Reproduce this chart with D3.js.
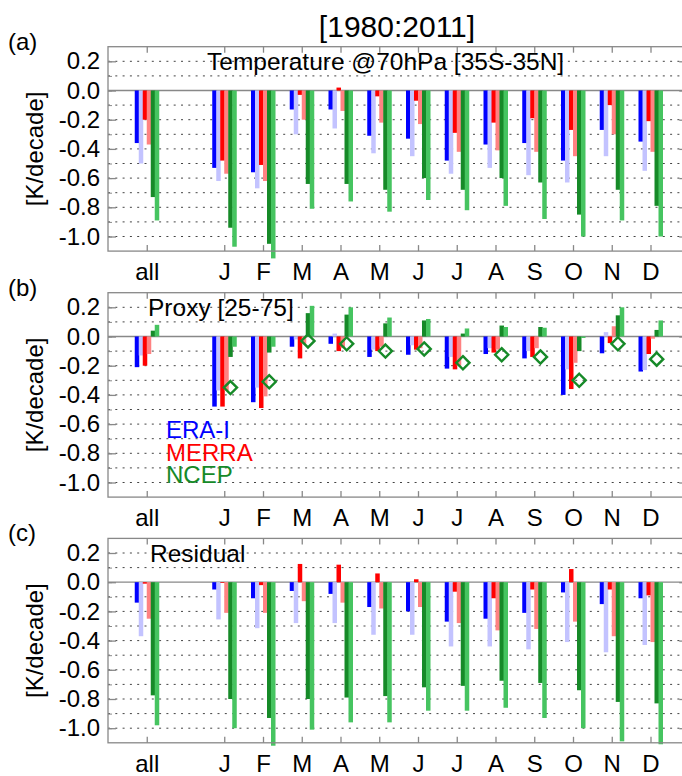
<!DOCTYPE html>
<html>
<head>
<meta charset="utf-8">
<script src="https://cdn.jsdelivr.net/npm/d3@7"></script>
<style>
body { margin: 0; background: #fff; }
text { font-family: "Liberation Sans", Arial, Helvetica, sans-serif; fill: #000; }
</style>
</head>
<body>
<div id="chart"></div>
<script>
var w = 682;
var h = 776;

// categories: "all" then the months (a blank slot sits between them)
var categories = ["all", "J", "F", "M", "A", "M", "J", "J", "A", "S", "O", "N", "D"];
var yTicks = [0.2, 0.0, -0.2, -0.4, -0.6, -0.8, -1.0];

// (a) Temperature @70hPa
var eraA     = [-0.36, -0.53, -0.56, -0.13, -0.13, -0.31, -0.33, -0.48, -0.37, -0.36, -0.48, -0.27, -0.35];
var eraA2    = [-0.50, -0.62, -0.67, -0.30, -0.26, -0.43, -0.45, -0.57, -0.53, -0.58, -0.63, -0.45, -0.55];
var merraA   = [-0.20, -0.48, -0.51, -0.03, 0.02, -0.04, -0.07, -0.29, -0.22, -0.19, -0.27, -0.10, -0.21];
var merraA2  = [-0.37, -0.57, -0.62, -0.20, -0.14, -0.22, -0.23, -0.42, -0.41, -0.42, -0.45, -0.30, -0.42];
var ncepA    = [-0.73, -0.94, -1.05, -0.64, -0.64, -0.68, -0.60, -0.68, -0.60, -0.63, -0.85, -0.68, -0.79];
var ncepA2   = [-0.89, -1.07, -1.15, -0.81, -0.76, -0.83, -0.75, -0.82, -0.79, -0.88, -1.00, -0.89, -1.00];

// (b) Proxy [25-75]
var eraB     = [-0.21, -0.48, -0.45, -0.07, -0.05, -0.14, -0.125, -0.22, -0.12, -0.15, -0.40, -0.115, -0.24];
var eraB2    = [-0.13, -0.37, -0.35, -0.02, 0.02, -0.09, -0.06, -0.14, -0.08, -0.10, -0.225, 0.03, -0.23];
var merraB   = [-0.20, -0.48, -0.49, -0.15, -0.10, -0.10, -0.09, -0.225, -0.11, -0.14, -0.36, -0.045, -0.12];
var merraB2  = [-0.12, -0.37, -0.41, -0.05, -0.08, -0.07, -0.08, -0.20, -0.09, -0.08, -0.18, 0.07, -0.015];
var ncepB    = [0.04, -0.14, -0.11, 0.16, 0.15, 0.09, 0.11, 0.02, 0.075, 0.065, -0.10, 0.145, 0.045];
var ncepB2   = [0.08, -0.07, -0.07, 0.21, 0.20, 0.13, 0.12, 0.055, 0.065, 0.06, -0.01, 0.20, 0.11];
var proxyB   = [null, -0.35, -0.31, -0.03, -0.05, -0.10, -0.085, -0.18, -0.125, -0.14, -0.30, -0.05, -0.155];

// (c) Residual
var eraC     = [-0.14, -0.05, -0.11, -0.06, -0.08, -0.17, -0.20, -0.27, -0.25, -0.21, -0.07, -0.15, -0.11];
var eraC2    = [-0.37, -0.255, -0.315, -0.28, -0.28, -0.36, -0.36, -0.44, -0.44, -0.46, -0.41, -0.48, -0.43];
var merraC   = [-0.01, -0.005, -0.02, 0.125, 0.12, 0.06, 0.02, -0.065, -0.11, -0.05, 0.09, -0.05, -0.09];
var merraC2  = [-0.25, -0.21, -0.21, -0.13, -0.14, -0.18, -0.17, -0.28, -0.33, -0.32, -0.27, -0.37, -0.41];
var ncepC    = [-0.775, -0.80, -0.93, -0.80, -0.79, -0.78, -0.72, -0.71, -0.675, -0.69, -0.74, -0.82, -0.83];
var ncepC2   = [-0.98, -1.00, -1.12, -1.01, -0.96, -0.96, -0.88, -0.88, -0.86, -0.93, -1.00, -1.09, -1.11];

var colors = ["#0000ff", "#c3c3ff", "#ff0000", "#ff8282", "#168a28", "#46c460"];
var diamondColor = "#168a28";

var panels = [
    {tag: "(a)", title: "Temperature @70hPa [35S-35N]", titleX: 207, top: 46.7,
     series: [eraA, eraA2, merraA, merraA2, ncepA, ncepA2], proxy: null},
    {tag: "(b)", title: "Proxy [25-75]", titleX: 148, top: 292.7,
     series: [eraB, eraB2, merraB, merraB2, ncepB, ncepB2], proxy: proxyB},
    {tag: "(c)", title: "Residual", titleX: 150, top: 538.4,
     series: [eraC, eraC2, merraC, merraC2, ncepC, ncepC2], proxy: null}
];

var panelH = 204.4;
var left = 108;
var right = 689.25;

// slot 0 = "all", slot 1 blank, slots 2..13 = months
function slot(i) { return i == 0 ? 0 : i + 1; }

var x = d3.scaleLinear().domain([-1, 14]).range([left, right]);
var y = d3.scaleLinear().domain([-1.1, 0.3]).range([panelH, 0]);
var sub = d3.scaleBand().domain(d3.range(6)).range([-12, 12]);

var svg = d3.select("#chart")
            .append("svg")
            .attr("width", w)
            .attr("height", h);

svg.append("text")
    .attr("x", 397)
    .attr("y", 37)
    .attr("text-anchor", "middle")
    .style("font-size", "30px")
    .text("[1980:2011]");

var grid = d3.range(-10, 3).filter(function(d) { return d != 0; }).map(function(d) { return d / 10; });
var minor = d3.range(-10, 3).map(function(d) { return d / 10; });

panels.forEach(function(p) {
    var g = svg.append("g").attr("transform", "translate(0," + p.top + ")");

    g.append("text")
        .attr("x", 8)
        .attr("y", 3)
        .style("font-size", "24px")
        .text(p.tag);

    // dotted grid
    g.selectAll("line.grid")
        .data(grid)
        .enter()
        .append("line")
        .attr("class", "grid")
        .attr("x1", left).attr("x2", right)
        .attr("y1", function(d) { return y(d); })
        .attr("y2", function(d) { return y(d); })
        .attr("stroke", "#444")
        .attr("stroke-width", 1)
        .attr("stroke-dasharray", "2,5.3");

    g.append("text")
        .attr("x", p.titleX)
        .attr("y", y(0.2) + 9)
        .style("font-size", "24.5px")
        .text(p.title);

    g.append("line")
        .attr("x1", left).attr("x2", right)
        .attr("y1", y(0)).attr("y2", y(0))
        .attr("stroke", "#888")
        .attr("stroke-width", 1.3);

    // bars
    p.series.forEach(function(s, k) {
        g.selectAll("rect.s" + k)
            .data(s)
            .enter()
            .append("rect")
            .attr("class", "s" + k)
            .attr("x", function(d, i) { return x(slot(i)) + sub(k); })
            .attr("width", 4.5)
            .attr("y", function(d) { return y(Math.max(0, d)); })
            .attr("height", function(d) { return Math.abs(y(d) - y(0)); })
            .attr("fill", colors[k]);
    });

    if (p.proxy) {
        var pts = p.proxy.map(function(d, i) { return {v: d, i: i}; })
                         .filter(function(d) { return d.v != null; });
        g.selectAll("path.proxy")
            .data(pts)
            .enter()
            .append("path")
            .attr("class", "proxy")
            .attr("d", d3.symbol().type(d3.symbolDiamond2).size(110))
            .attr("transform", function(d) {
                return "translate(" + (x(slot(d.i)) + sub(4) + 2.2) + "," + y(d.v) + ")";
            })
            .attr("fill", "none")
            .attr("stroke", diamondColor)
            .attr("stroke-width", 2.4);
    }

    // frame and ticks
    g.append("rect")
        .attr("x", left).attr("y", 0)
        .attr("width", right - left).attr("height", panelH)
        .attr("fill", "none")
        .attr("stroke", "#888")
        .attr("stroke-width", 1.3);

    var yAxis = g.append("g")
        .attr("transform", "translate(" + left + ",0)")
        .call(d3.axisLeft(y).tickValues(yTicks).tickSizeInner(-8).tickSizeOuter(0).tickPadding(8)
              .tickFormat(function(d) { return d.toFixed(1); }));
    yAxis.select(".domain").remove();
    yAxis.selectAll("line").attr("stroke", "#888").attr("stroke-width", 1.3);
    yAxis.selectAll("text").style("font-size", "24px").attr("fill", "#000");

    var yMinor = g.append("g")
        .attr("transform", "translate(" + left + ",0)")
        .call(d3.axisLeft(y).tickValues(minor).tickSizeInner(-4).tickSizeOuter(0).tickFormat(""));
    yMinor.select(".domain").remove();
    yMinor.selectAll("line").attr("stroke", "#888");

    var yRight = g.append("g")
        .attr("transform", "translate(" + right + ",0)")
        .call(d3.axisRight(y).tickValues(yTicks).tickSizeInner(-10).tickSizeOuter(0).tickFormat(""));
    yRight.select(".domain").remove();
    yRight.selectAll("line").attr("stroke", "#888").attr("stroke-width", 1.3);

    var slots = categories.map(function(c, i) { return slot(i); });
    var xAxis = g.append("g")
        .attr("transform", "translate(0," + panelH + ")")
        .call(d3.axisBottom(x).tickValues(slots).tickSizeInner(-6).tickSizeOuter(0).tickPadding(12)
              .tickFormat(function(d, i) { return categories[i]; }));
    xAxis.select(".domain").remove();
    xAxis.selectAll("line").attr("stroke", "#888").attr("stroke-width", 1.3);
    xAxis.selectAll("text").style("font-size", "24px").attr("fill", "#000");

    var xTop = g.append("g")
        .call(d3.axisTop(x).tickValues(slots).tickSizeInner(-6).tickSizeOuter(0).tickFormat(""));
    xTop.select(".domain").remove();
    xTop.selectAll("line").attr("stroke", "#888").attr("stroke-width", 1.3);

    g.append("text")
        .attr("transform", "translate(43," + (panelH / 2) + ") rotate(-90)")
        .attr("text-anchor", "middle")
        .style("font-size", "24px")
        .text("[K/decade]");
});

// legend in panel (b)
var legend = [["ERA-I", colors[0]], ["MERRA", colors[2]], ["NCEP", diamondColor]];
svg.selectAll("text.legend")
    .data(legend)
    .enter()
    .append("text")
    .attr("class", "legend")
    .attr("x", 166)
    .attr("y", function(d, i) { return 438 + i * 22.5; })
    .style("font-size", "24px")
    .style("fill", function(d) { return d[1]; })
    .text(function(d) { return d[0]; });
</script>
</body>
</html>
